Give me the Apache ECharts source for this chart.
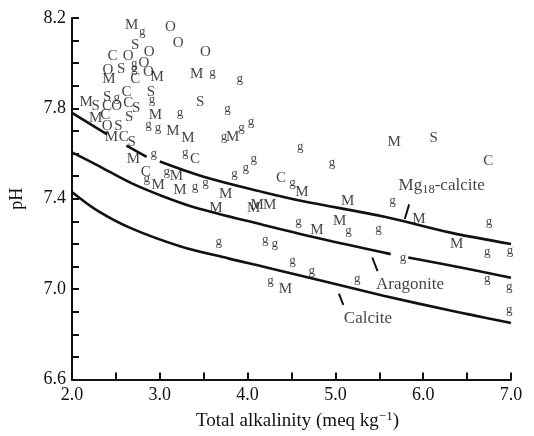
<!DOCTYPE html>
<html>
<head>
<meta charset="utf-8">
<script src="https://cdn.jsdelivr.net/npm/echarts@6/dist/echarts.min.js"></script>
<style>
  html, body { margin: 0; padding: 0; background: #fff; }
  #chart { width: 534px; height: 436px; }
</style>
</head>
<body>
<div id="chart"></div>
<script>
// sample points, one list per letter marker: [alkalinity, pH]
const mPts = [[2.68,8.17],[2.97,7.94],[2.42,7.93],[3.42,7.95],[2.16,7.83],[2.95,7.77],[2.27,7.755],
  [3.15,7.70],[3.32,7.67],[3.83,7.675],[2.45,7.675],[2.70,7.575],[2.98,7.46],[3.19,7.50],[3.23,7.44],
  [3.75,7.42],[3.64,7.36],[4.07,7.36],[5.67,7.65],[4.62,7.43],[5.14,7.39],[4.11,7.37],[4.25,7.37],
  [5.95,7.31],[4.79,7.26],[5.05,7.30],[6.38,7.20],[4.43,7.0]];
const gPts = [[2.80,8.14],[2.71,8.00],[2.71,7.975],[3.60,7.96],[3.91,7.93],[2.51,7.85],[2.91,7.84],
  [3.77,7.80],[3.23,7.78],[2.87,7.73],[2.98,7.715],[3.73,7.675],[3.93,7.715],[4.04,7.74],[2.93,7.60],
  [3.29,7.605],[2.85,7.49],[3.08,7.52],[3.40,7.455],[3.52,7.47],[3.85,7.51],[3.98,7.54],[4.07,7.58],
  [3.67,7.21],[4.60,7.63],[4.96,7.56],[4.51,7.47],[5.65,7.39],[6.75,7.30],[4.58,7.30],[5.15,7.26],
  [5.49,7.27],[6.73,7.165],[6.99,7.17],[4.20,7.22],[4.31,7.20],[5.77,7.14],[4.51,7.125],[4.73,7.08],
  [5.25,7.045],[6.73,7.045],[6.98,7.01],[4.26,7.04],[6.98,6.91]];
const sPts = [[2.72,8.08],[2.56,7.975],[2.90,7.87],[2.40,7.85],[3.46,7.83],[2.27,7.81],[2.73,7.80],
  [2.53,7.72],[2.65,7.76],[2.68,7.65],[6.12,7.67]];
const cPts = [[2.46,8.03],[2.72,7.93],[2.62,7.87],[2.40,7.81],[2.64,7.825],[2.38,7.77],[2.59,7.675],
  [3.40,7.575],[2.84,7.52],[4.38,7.49],[6.74,7.565]];
const oPts = [[3.12,8.16],[3.21,8.09],[2.88,8.05],[3.52,8.05],[2.64,8.03],[2.82,8.00],[2.41,7.97],
  [2.87,7.96],[2.51,7.81],[2.40,7.72]];

// saturation curves (null = break in the printed line)
const mgCalcite = [[2.0,7.78],[2.40,7.685],null,[2.62,7.635],[2.85,7.585],null,[3.0,7.565],[3.52,7.495],
  [4.17,7.43],[4.62,7.39],[5.56,7.32],[6.31,7.25],[7.0,7.20]];
const aragonite = [[2.0,7.605],[2.28,7.55],[2.67,7.47],[3.04,7.41],[3.41,7.36],[4.17,7.285],[4.81,7.225],
  [5.63,7.155],null,[5.83,7.14],[6.50,7.09],[7.0,7.05]];
const calcite = [[2.0,7.43],[2.28,7.35],[2.67,7.27],[3.23,7.19],[3.79,7.135],[4.17,7.10],[4.81,7.04],
  [5.56,6.97],[6.31,6.905],[7.0,6.85]];

// curve names and leader ticks
const curveLabels = [
  { pos: [6.21, 7.46], text: '{a|Mg}{b|18}{a|-calcite}' },
  { pos: [5.85, 7.02], text: '{a|Aragonite}' },
  { pos: [5.37, 6.87], text: '{a|Calcite}' }
];
const leaders = [
  [[5.84, 7.375], [5.79, 7.31]],
  [[5.42, 7.14], [5.48, 7.08]],
  [[5.04, 6.98], [5.09, 6.93]]
];

const serif = 'Liberation Serif';

function letterSeries(pts, letter, size) {
  return {
    type: 'scatter',
    data: pts,
    symbolSize: 1,
    itemStyle: { color: 'transparent' },
    silent: true,
    z: 5,
    label: {
      show: true,
      position: 'inside',
      formatter: letter,
      color: '#111',
      fontFamily: serif,
      fontSize: size
    }
  };
}

function curveSeries(data) {
  return {
    type: 'line',
    data: data,
    symbol: 'none',
    smooth: 0.35,
    connectNulls: false,
    lineStyle: { color: '#111', width: 2.6 },
    z: 3
  };
}

const series = [
  curveSeries(mgCalcite),
  curveSeries(aragonite),
  curveSeries(calcite),
  letterSeries(mPts, 'M', 15),
  letterSeries(gPts, 'g', 13),
  letterSeries(sPts, 'S', 15),
  letterSeries(cPts, 'C', 15),
  letterSeries(oPts, 'O', 15)
];

leaders.forEach(function (seg) {
  series.push({
    type: 'line',
    data: seg,
    symbol: 'none',
    lineStyle: { color: '#111', width: 2 },
    z: 3
  });
});

series.push({
  type: 'scatter',
  symbolSize: 1,
  itemStyle: { color: 'transparent' },
  silent: true,
  data: curveLabels.map(function (l) {
    return { value: l.pos, text: l.text };
  }),
  label: {
    show: true,
    position: 'inside',
    formatter: function (p) { return p.data.text; },
    rich: {
      a: { fontFamily: serif, fontSize: 17, color: '#111' },
      b: { fontFamily: serif, fontSize: 12.5, color: '#111', padding: [9, 0, 0, 0] }
    }
  }
});

const chart = echarts.init(document.getElementById('chart'));
chart.setOption({
  animation: false,
  backgroundColor: '#fff',
  grid: { left: 68, right: 23, top: 18, bottom: 55 },
  xAxis: {
    type: 'value',
    min: 2.0,
    max: 7.0,
    interval: 0.5,
    name: '{t|Total alkalinity (meq kg}{s|−1}{t|)}',
    nameLocation: 'middle',
    nameGap: 31,
    nameTextStyle: {
      padding: [0, 0, 0, 12],
      rich: {
        t: { fontFamily: serif, fontSize: 19, color: '#111' },
        s: { fontFamily: serif, fontSize: 13, color: '#111', padding: [0, 0, 9, 0] }
      }
    },
    axisLine: { lineStyle: { color: '#111', width: 2 } },
    axisTick: { inside: true, length: 7, lineStyle: { color: '#111', width: 2 } },
    axisLabel: {
      color: '#111', fontFamily: serif, fontSize: 18, margin: 7,
      formatter: function (v) {
        return Math.abs(v - Math.round(v)) < 1e-6 ? v.toFixed(1) : '';
      }
    },
    splitLine: { show: false }
  },
  yAxis: {
    type: 'value',
    min: 6.6,
    max: 8.2,
    interval: 0.1,
    name: 'pH',
    nameLocation: 'middle',
    nameGap: 46,
    nameRotate: 90,
    nameTextStyle: { fontFamily: serif, fontSize: 18, color: '#111' },
    axisLine: { lineStyle: { color: '#111', width: 2 } },
    axisTick: { inside: true, length: 7, lineStyle: { color: '#111', width: 2 } },
    axisLabel: {
      color: '#111', fontFamily: serif, fontSize: 18, margin: 6,
      formatter: function (v) {
        return Math.round(v * 10) % 4 === 2 ? v.toFixed(1) : '';
      }
    },
    splitLine: { show: false }
  },
  series: series
});
</script>
</body>
</html>
